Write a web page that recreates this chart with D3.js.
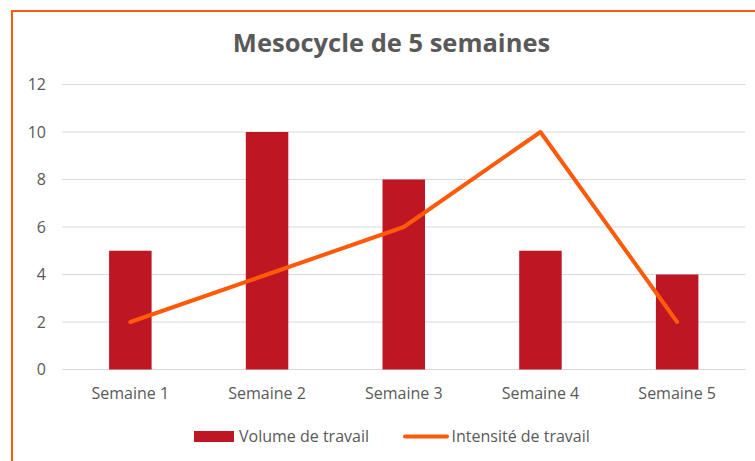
<!DOCTYPE html>
<html><head><meta charset="utf-8">
<script src="https://cdn.jsdelivr.net/npm/d3@7"></script>
<style>body{margin:0;background:#fff}svg{display:block}text{font-family:"Open Sans","Liberation Sans",sans-serif}</style>
</head><body><svg id="c" width="755" height="461"></svg>
<script>
const categories = ["Semaine 1","Semaine 2","Semaine 3","Semaine 4","Semaine 5"];
const volume = [5,10,8,5,4];
const intensite = [2,4,6,10,2];
const yTicks = [0,2,4,6,8,10,12];
const title = "Mesocycle de 5 semaines";
const seriesNames = ["Volume de travail","Intensité de travail"];

const svg = d3.select("#c");
const barColor = "#BE1622", lineColor = "#FF5A0A", textColor = "#595959";
svg.append("rect").attr("x",0).attr("y",0).attr("width",755).attr("height",461).attr("fill","#fff");
svg.append("path").attr("d","M12,461 L12,11 L755,11").attr("fill","none").attr("stroke",lineColor).attr("stroke-width",2);

const x = d3.scaleBand().domain(categories).range([62,745.5]);
const y = d3.scaleLinear().domain([0,12]).range([369.5,84.5]);

svg.append("g").selectAll("line").data(yTicks).join("line")
  .attr("x1",62).attr("x2",745.5).attr("y1",d=>y(d)).attr("y2",d=>y(d))
  .attr("stroke","#D9D9D9").attr("stroke-width",1);

const yAxis = svg.append("g").attr("transform","translate(46,0)")
  .call(d3.axisLeft(y).tickValues(yTicks).tickSize(0).tickPadding(0));
yAxis.select(".domain").remove();
yAxis.selectAll("text").attr("font-size",16).attr("fill",textColor).attr("font-family","Open Sans, sans-serif");

const xAxis = svg.append("g").attr("transform","translate(0,399)")
  .call(d3.axisBottom(x).tickSize(0).tickPadding(0));
xAxis.select(".domain").remove();
xAxis.selectAll("text").attr("y",0).attr("dy",0).attr("font-size",16).attr("fill",textColor).attr("font-family","Open Sans, sans-serif");

const bw = 42.5;
svg.append("g").selectAll("rect").data(volume).join("rect")
  .attr("x",(d,i)=>x(categories[i])+x.bandwidth()/2-bw/2)
  .attr("width",bw)
  .attr("y",d=>y(d)).attr("height",d=>y(0)-y(d))
  .attr("fill",barColor);

const line = d3.line().x((d,i)=>x(categories[i])+x.bandwidth()/2).y(d=>y(d));
svg.append("path").datum(intensite).attr("d",line).attr("fill","none")
  .attr("stroke",lineColor).attr("stroke-width",4).attr("stroke-linejoin","round").attr("stroke-linecap","round");

svg.append("text").attr("x",391.5).attr("y",51.5).attr("text-anchor","middle")
  .attr("font-size",25.5).attr("font-weight","bold").attr("fill",textColor).text(title);

const lg = svg.append("g");
lg.append("rect").attr("x",194).attr("y",431).attr("width",40).attr("height",11).attr("fill",barColor);
lg.append("text").attr("x",239).attr("y",441.5).attr("font-size",16).attr("fill",textColor).text(seriesNames[0]);
lg.append("line").attr("x1",405).attr("x2",447).attr("y1",436.5).attr("y2",436.5)
  .attr("stroke",lineColor).attr("stroke-width",4).attr("stroke-linecap","round");
lg.append("text").attr("x",451.5).attr("y",441.5).attr("font-size",16).attr("fill",textColor).text(seriesNames[1]);
</script></body></html>
